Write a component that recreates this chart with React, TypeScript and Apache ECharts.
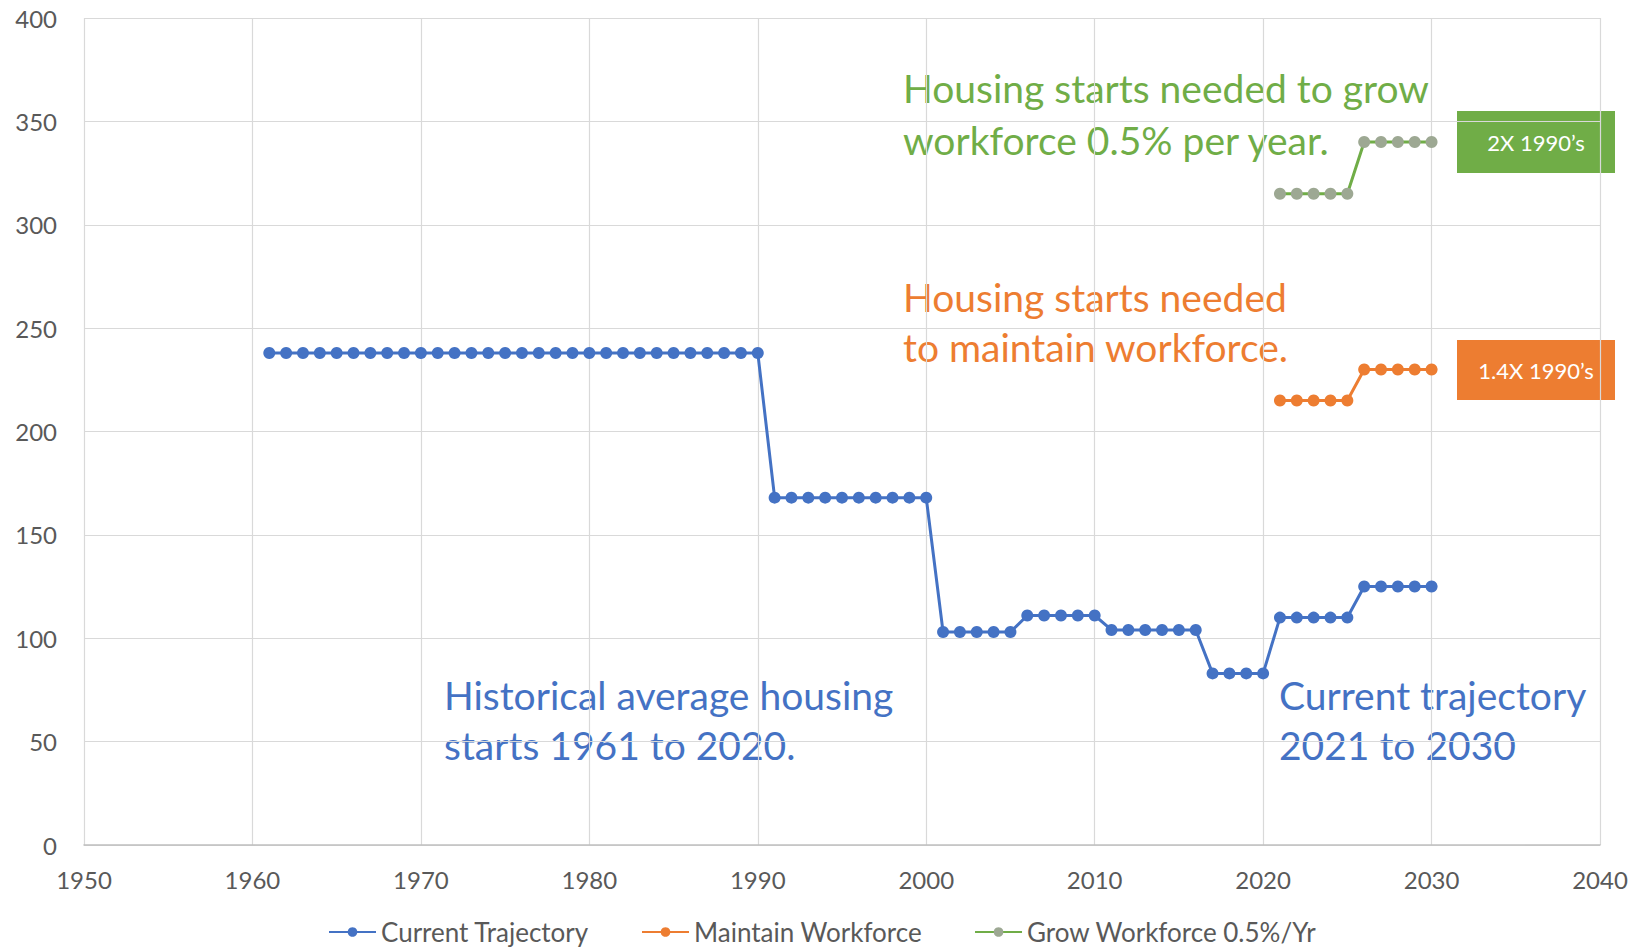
import React, { useEffect, useRef } from "react";
import * as echarts from "echarts";

const currentYears = [
  1961, 1962, 1963, 1964, 1965, 1966, 1967, 1968, 1969, 1970,
  1971, 1972, 1973, 1974, 1975, 1976, 1977, 1978, 1979, 1980,
  1981, 1982, 1983, 1984, 1985, 1986, 1987, 1988, 1989, 1990,
  1991, 1992, 1993, 1994, 1995, 1996, 1997, 1998, 1999, 2000,
  2001, 2002, 2003, 2004, 2005, 2006, 2007, 2008, 2009, 2010,
  2011, 2012, 2013, 2014, 2015, 2016, 2017, 2018, 2019, 2020,
  2021, 2022, 2023, 2024, 2025, 2026, 2027, 2028, 2029, 2030,
];
const currentValues = [
  238, 238, 238, 238, 238, 238, 238, 238, 238, 238,
  238, 238, 238, 238, 238, 238, 238, 238, 238, 238,
  238, 238, 238, 238, 238, 238, 238, 238, 238, 238,
  168, 168, 168, 168, 168, 168, 168, 168, 168, 168,
  103, 103, 103, 103, 103, 111, 111, 111, 111, 111,
  104, 104, 104, 104, 104, 104, 83, 83, 83, 83,
  110, 110, 110, 110, 110, 125, 125, 125, 125, 125,
];
const futureYears = [2021, 2022, 2023, 2024, 2025, 2026, 2027, 2028, 2029, 2030];
const maintainValues = [215, 215, 215, 215, 215, 230, 230, 230, 230, 230];
const growValues = [315, 315, 315, 315, 315, 340, 340, 340, 340, 340];

const seriesNames = ["Current Trajectory", "Maintain Workforce", "Grow Workforce 0.5%/Yr"];

const FONT = "Lato, 'Open Sans', sans-serif";
const BLUE = "#4472C4";
const ORANGE = "#ED7D31";
const GREEN = "#70AD47";
const GREEN_DOT = "#9DA893";
const GRAY_TEXT = "#595959";

const zip = (xs: number[], ys: number[]) => xs.map((x, i) => [x, ys[i]]);

export default function App() {
  const ref = useRef<HTMLDivElement>(null);
  useEffect(() => {
    if (!ref.current) return;
    const chart = echarts.init(ref.current, undefined, { renderer: "svg" });
    const annFont = `39px ${FONT}`;
    chart.setOption({
      animation: false,
      backgroundColor: "#ffffff",
      textStyle: { fontFamily: FONT },
      grid: { left: 84, right: 33, top: 18, bottom: 103 },
      xAxis: {
        type: "value",
        min: 1950,
        max: 2040,
        interval: 10,
        axisLine: { show: true, lineStyle: { color: "#BFBFBF", width: 1.5 } },
        axisTick: { show: false },
        axisLabel: {
          color: GRAY_TEXT,
          fontSize: 24,
          margin: 22,
          fontFamily: FONT,
          formatter: (v: number) => String(v),
        },
        splitLine: { show: true, lineStyle: { color: "#D9D9D9", width: 1.2 } },
      },
      yAxis: {
        type: "value",
        min: 0,
        max: 400,
        interval: 50,
        axisLine: { show: false },
        axisTick: { show: false },
        axisLabel: { color: GRAY_TEXT, fontSize: 24, margin: 27, fontFamily: FONT },
        splitLine: { show: true, lineStyle: { color: "#D9D9D9", width: 1.2 } },
      },
      legend: {
        left: 328,
        top: 918,
        padding: 0,
        itemWidth: 47,
        itemHeight: 12,
        itemGap: 52,
        textStyle: { color: GRAY_TEXT, fontSize: 26, lineHeight: 28, fontFamily: FONT },
        data: seriesNames,
      },
      series: [
        {
          name: seriesNames[0],
          type: "line",
          data: zip(currentYears, currentValues),
          symbol: "circle",
          symbolSize: 12,
          lineStyle: { color: BLUE, width: 3 },
          itemStyle: { color: BLUE },
        },
        {
          name: seriesNames[1],
          type: "line",
          data: zip(futureYears, maintainValues),
          symbol: "circle",
          symbolSize: 12,
          lineStyle: { color: ORANGE, width: 3 },
          itemStyle: { color: ORANGE },
        },
        {
          name: seriesNames[2],
          type: "line",
          data: zip(futureYears, growValues),
          symbol: "circle",
          symbolSize: 12,
          lineStyle: { color: GREEN, width: 3 },
          itemStyle: { color: GREEN_DOT },
        },
      ],
      graphic: [
        {
          type: "text",
          left: 903,
          top: 62,
          style: {
            text: "Housing starts needed to grow\nworkforce 0.5% per year.",
            fill: GREEN,
            font: annFont,
            lineHeight: 52,
          },
        },
        {
          type: "text",
          left: 903,
          top: 272,
          style: {
            text: "Housing starts needed\nto maintain workforce.",
            fill: ORANGE,
            font: annFont,
            lineHeight: 50,
          },
        },
        {
          type: "text",
          left: 444,
          top: 670,
          style: {
            text: "Historical average housing\nstarts 1961 to 2020.",
            fill: BLUE,
            font: annFont,
            lineHeight: 50,
          },
        },
        {
          type: "text",
          left: 1279,
          top: 670,
          style: {
            text: "Current trajectory\n2021 to 2030",
            fill: BLUE,
            font: annFont,
            lineHeight: 50,
          },
        },
        {
          type: "group",
          left: 1457,
          top: 111,
          children: [
            { type: "rect", shape: { x: 0, y: 0, width: 158, height: 62 }, style: { fill: GREEN } },
            {
              type: "text",
              x: 79,
              y: 31,
              style: { text: "2X 1990\u2019s", fill: "#ffffff", font: `22px ${FONT}`, align: "center", verticalAlign: "middle" },
            },
          ],
        },
        {
          type: "group",
          left: 1457,
          top: 340,
          children: [
            { type: "rect", shape: { x: 0, y: 0, width: 158, height: 60 }, style: { fill: ORANGE } },
            {
              type: "text",
              x: 79,
              y: 30,
              style: { text: "1.4X 1990\u2019s", fill: "#ffffff", font: `22px ${FONT}`, align: "center", verticalAlign: "middle" },
            },
          ],
        },
      ],
    });
    return () => chart.dispose();
  }, []);
  return (
    <div
      ref={ref}
      style={{ position: "fixed", left: 0, top: 0, width: 1633, height: 948 }}
    />
  );
}
